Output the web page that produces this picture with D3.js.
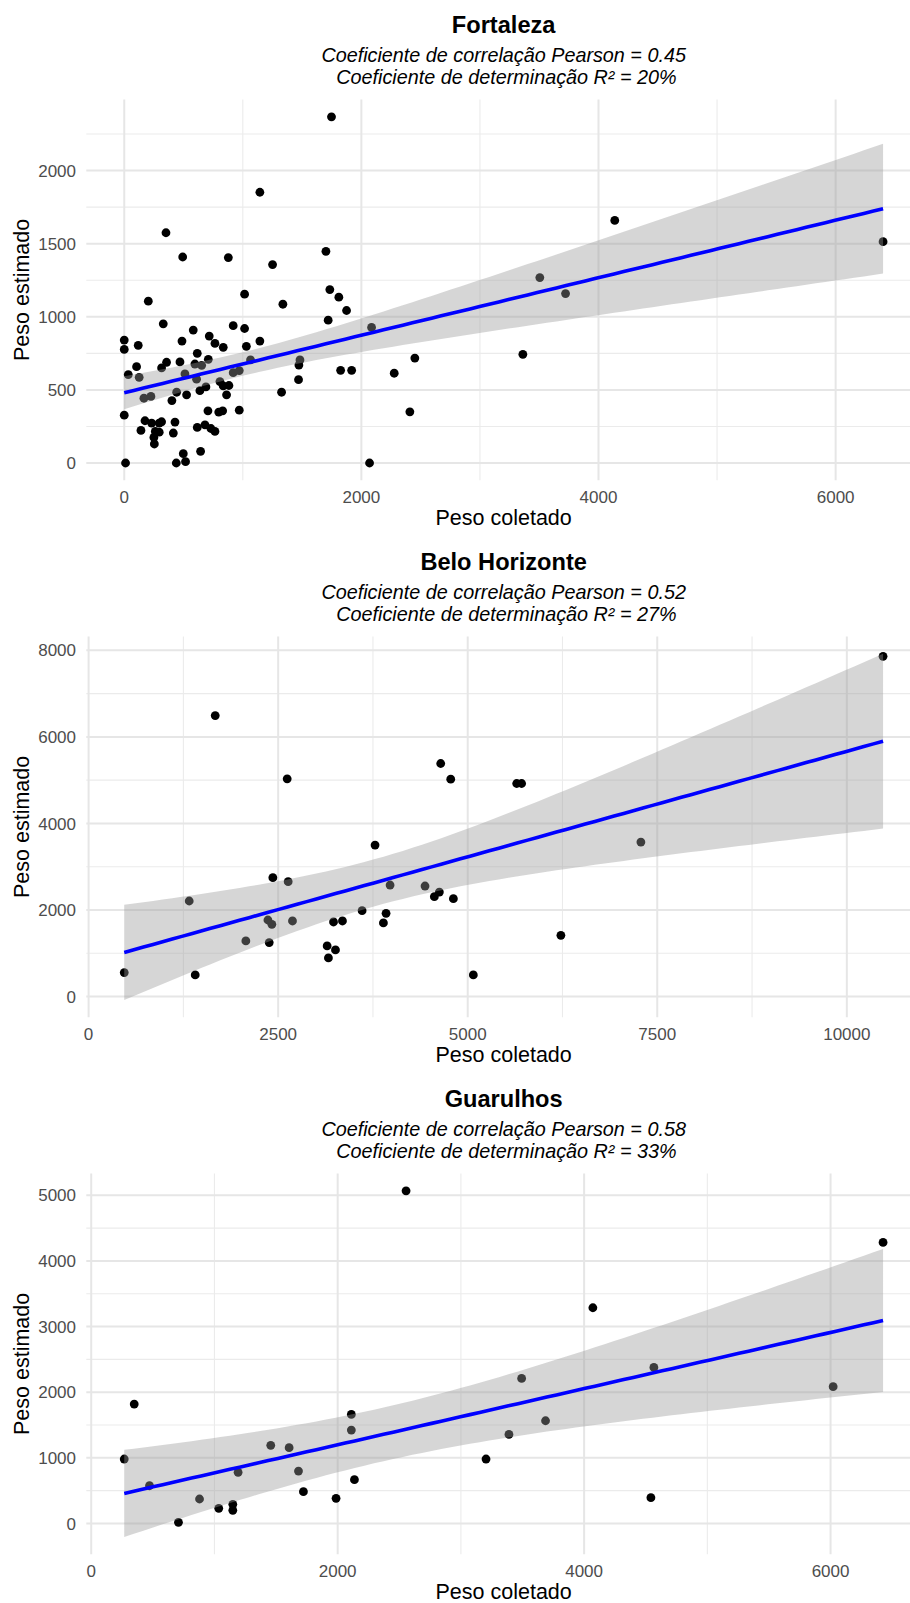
<!DOCTYPE html>
<html>
<head>
<meta charset="utf-8">
<script src="https://cdn.jsdelivr.net/npm/d3@7"></script>
<style>
  body { margin: 0; background: #fff; }
  text { font-family: "Liberation Sans", Arial, Helvetica, sans-serif; white-space: pre; }
</style>
</head>
<body>
<svg id="chart" width="910" height="1603"></svg>
<script>
// ---- data -------------------------------------------------------------
const cities = ["Fortaleza", "Belo Horizonte", "Guarulhos"];
const pearson = ["0.45", "0.52", "0.58"];
const determinacao = ["20%", "27%", "33%"];

const fortalezaColetado = [1748,1144,352,493,878,1701,1251,203,1015,1734,1810,1338,1875,1720,329,582,919,1015,717,487,0,0,118,765,835,1030,1144,616,709,104,34,126,315,357,470,596,653,512,610,689,638,807,835,883,863,919,970,1065,1482,1473,1470,1327,1825,1918,2086,2069,2277,2451,2409,0,11,166,225,442,402,526,175,141,231,295,315,262,254,295,428,414,616,681,731,765,706,797,830,970,498,644,439,517,250,4137,3505,3722,3362,6400];
const fortalezaEstimado = [2368,1852,1575,1409,1405,1448,1357,1107,1155,1186,1134,1086,1043,977,952,909,939,920,868,834,841,777,805,818,791,798,834,750,709,659,605,586,650,689,691,677,668,609,573,520,495,557,527,530,466,618,632,705,705,670,570,484,634,634,927,0,614,718,350,327,0,443,455,484,427,466,289,223,273,273,282,216,130,211,280,205,243,261,236,216,357,348,357,361,64,80,0,9,175,1659,1268,1159,743,1514];

const bhColetado = [470,1406,1327,1670,2074,2382,2365,2417,2430,2632,2619,2689,3146,3256,3163,3230,3348,3607,3778,3888,3923,3976,4437,4560,4626,4811,4644,4776,5074,5646,5711,6229,7284,10478];
const bhEstimado = [554,500,2208,6492,1285,1246,1769,1669,2746,2654,5031,1746,1169,1077,892,1723,1746,1985,3500,1700,1923,2577,2554,2308,2415,2262,5385,5023,500,4923,4923,1415,3569,7862];

const guarulhosColetado = [2555,349,268,473,708,879,1035,1149,1149,1192,1457,1606,1682,1722,1987,2111,2111,2136,6426,4071,3493,4566,6021,3687,3390,3204,4542];
const guarulhosEstimado = [5068,1818,981,574,16,372,229,290,199,778,1189,1154,798,483,382,1661,1422,666,4281,3286,2209,2377,2083,1564,1356,981,392];

const coletado = [fortalezaColetado, bhColetado, guarulhosColetado];
const estimado = [fortalezaEstimado, bhEstimado, guarulhosEstimado];

const xTicks = [[0,2000,4000,6000],[0,2500,5000,7500,10000],[0,2000,4000,6000]];
const yTicks = [[0,500,1000,1500,2000],[0,2000,4000,6000,8000],[0,1000,2000,3000,4000,5000]];

// ---- helpers ----------------------------------------------------------
// Student t 0.975 quantile (Cornish-Fisher expansion)
function qt975(df) {
  const z = 1.959963985, z3 = z ** 3, z5 = z ** 5, z7 = z ** 7;
  return z + (z3 + z) / (4 * df) + (5 * z5 + 16 * z3 + 3 * z) / (96 * df * df)
    + (3 * z7 + 19 * z5 + 17 * z3 - 15 * z) / (384 * df ** 3);
}

// ordinary least squares fit with 95% confidence band, evaluated on 80 points
function lmBand(xs, ys) {
  const n = xs.length;
  const mx = d3.mean(xs), my = d3.mean(ys);
  let sxx = 0, sxy = 0;
  for (let i = 0; i < n; i++) { sxx += (xs[i] - mx) ** 2; sxy += (xs[i] - mx) * (ys[i] - my); }
  const b = sxy / sxx, a = my - b * mx;
  let sse = 0;
  for (let i = 0; i < n; i++) sse += (ys[i] - a - b * xs[i]) ** 2;
  const s = Math.sqrt(sse / (n - 2)), t = qt975(n - 2);
  const [lo, hi] = d3.extent(xs);
  return d3.range(80).map(k => {
    const x = lo + (hi - lo) * k / 79;
    const fit = a + b * x;
    const se = s * Math.sqrt(1 / n + (x - mx) ** 2 / sxx);
    return { x, fit, lower: fit - t * se, upper: fit + t * se };
  });
}

function expand([a, b], f = 0.05) { const d = (b - a) * f; return [a - d, b + d]; }

function minorBreaks(major, domain) {
  const step = major[1] - major[0];
  const out = [];
  for (let v = major[0] - step / 2; v <= major[major.length - 1] + step; v += step) {
    if (v >= domain[0] && v <= domain[1]) out.push(v);
  }
  return out;
}

// ---- layout ------------------------------------------------------------
const svg = d3.select("#chart");
const blockH = 537;
const panelLeft = 86.3, panelRight = 921;
const panelTopOffset = 99.5, panelH = 380.8;
const centerX = (panelLeft + panelRight) / 2;

cities.forEach((city, i) => {
  const xs = coletado[i], ys = estimado[i];
  const band = lmBand(xs, ys);
  const pts = xs.map((x, k) => ({ x, y: ys[k] }));

  const top = i * blockH + panelTopOffset;
  const bottom = top + panelH;

  const xDom = expand(d3.extent(xs));
  const yDom = expand(d3.extent([...ys, ...band.map(d => d.lower), ...band.map(d => d.upper)]));
  const x = d3.scaleLinear().domain(xDom).range([panelLeft, panelRight]);
  const y = d3.scaleLinear().domain(yDom).range([bottom, top]);

  const g = svg.append("g").attr("class", "panel");

  // grid
  const grid = g.append("g");
  grid.selectAll(".vminor").data(minorBreaks(xTicks[i], xDom)).join("line")
    .attr("x1", d => x(d)).attr("x2", d => x(d)).attr("y1", top).attr("y2", bottom)
    .attr("stroke", "#ebebeb").attr("stroke-width", 1.1);
  grid.selectAll(".hminor").data(minorBreaks(yTicks[i], yDom)).join("line")
    .attr("y1", d => y(d)).attr("y2", d => y(d)).attr("x1", panelLeft).attr("x2", panelRight)
    .attr("stroke", "#ebebeb").attr("stroke-width", 1.1);
  grid.selectAll(".vmajor").data(xTicks[i]).join("line")
    .attr("x1", d => x(d)).attr("x2", d => x(d)).attr("y1", top).attr("y2", bottom)
    .attr("stroke", "#e6e6e6").attr("stroke-width", 2);
  grid.selectAll(".hmajor").data(yTicks[i]).join("line")
    .attr("y1", d => y(d)).attr("y2", d => y(d)).attr("x1", panelLeft).attr("x2", panelRight)
    .attr("stroke", "#e6e6e6").attr("stroke-width", 2);

  // points
  g.append("g").selectAll("circle").data(pts).join("circle")
    .attr("cx", d => x(d.x)).attr("cy", d => y(d.y)).attr("r", 4.4)
    .attr("fill", "#000");

  // confidence band
  g.append("path").datum(band)
    .attr("d", d3.area().x(d => x(d.x)).y0(d => y(d.lower)).y1(d => y(d.upper)))
    .attr("fill", "#999999").attr("fill-opacity", 0.4);

  // fitted line
  g.append("path").datum(band)
    .attr("d", d3.line().x(d => x(d.x)).y(d => y(d.fit)))
    .attr("fill", "none").attr("stroke", "#0000ff").attr("stroke-width", 3.6);

  // axis labels
  g.append("g").selectAll("text").data(xTicks[i]).join("text")
    .attr("x", d => x(d)).attr("y", bottom + 23)
    .attr("text-anchor", "middle").attr("font-size", 17).attr("fill", "#4d4d4d")
    .text(d => d);
  g.append("g").selectAll("text").data(yTicks[i]).join("text")
    .attr("x", 76).attr("y", d => y(d)).attr("dy", "0.36em")
    .attr("text-anchor", "end").attr("font-size", 17).attr("fill", "#4d4d4d")
    .text(d => d);

  // titles
  g.append("text").attr("x", centerX).attr("y", top - 66.2)
    .attr("text-anchor", "middle").attr("font-size", 23.6).attr("font-weight", "bold")
    .text(city);
  g.append("text").attr("x", centerX).attr("y", top - 37.2)
    .attr("text-anchor", "middle").attr("font-size", 19.8).attr("font-style", "italic")
    .text(`Coeficiente de correlação Pearson = ${pearson[i]}`);
  g.append("text").attr("x", centerX).attr("y", top - 15.5)
    .attr("text-anchor", "middle").attr("font-size", 19.8).attr("font-style", "italic")
    .text(` Coeficiente de determinação R² = ${determinacao[i]}`);

  g.append("text").attr("x", centerX).attr("y", bottom + 44.5)
    .attr("text-anchor", "middle").attr("font-size", 21.5)
    .text("Peso coletado");
  g.append("text")
    .attr("transform", `translate(29,${(top + bottom) / 2}) rotate(-90)`)
    .attr("text-anchor", "middle").attr("font-size", 21.5)
    .text("Peso estimado");
});
</script>
</body>
</html>
